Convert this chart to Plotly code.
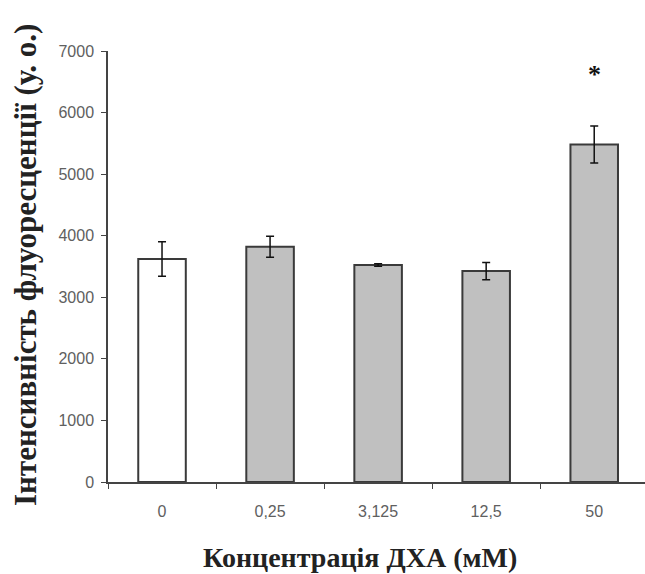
import plotly.graph_objects as go

categories = ["0", "0,25", "3,125", "12,5", "50"]
values = [3620, 3820, 3525, 3425, 5480]
errors = [280, 170, 20, 140, 300]
fill_colors = ["#ffffff", "#c0c0c0", "#c0c0c0", "#c0c0c0", "#c0c0c0"]
y_ticks = [0, 1000, 2000, 3000, 4000, 5000, 6000, 7000]
sig_marker = "*"
sig_index = 4
sig_y = 6620

fig = go.Figure()
fig.add_trace(go.Bar(
    x=categories, y=values,
    marker=dict(color=fill_colors, line=dict(color="#3a3a3a", width=2)),
    width=0.44,
    error_y=dict(type="data", array=errors, visible=True, color="#111111", thickness=1.5, width=4),
    showlegend=False,
))

fig.add_annotation(x=sig_index, y=sig_y, text="<b>" + sig_marker + "</b>", showarrow=False,
                   font=dict(family="Liberation Serif", size=26, color="#111111"), xref="x", yref="y")

fig.add_annotation(text="<b>Інтенсивність флуоресценції (у. о.)</b>", xref="paper", yref="paper",
                   x=-0.155, y=0.503, textangle=-90, showarrow=False, xanchor="center", yanchor="middle",
                   font=dict(family="Liberation Serif", size=31, color="#222222"))
fig.add_annotation(text="<b>Концентрація ДХА (мМ)</b>", xref="paper", yref="paper",
                   x=0.469, y=-0.176, showarrow=False, xanchor="center", yanchor="middle",
                   font=dict(family="Liberation Serif", size=28, color="#222222"))

fig.update_layout(
    width=645, height=574,
    margin=dict(l=108, r=0, t=51, b=92),
    plot_bgcolor="white", paper_bgcolor="white",
    bargap=0.56,
)
fig.update_xaxes(
    type="category", range=[-0.5, 4.47],
    showline=True, linecolor="#444444", linewidth=1.5,
    ticks="outside", tickson="boundaries", ticklen=5, tickcolor="#444444",
    ticklabelstandoff=14,
    tickfont=dict(family="Liberation Sans", size=16, color="#606060"),
    showgrid=False, zeroline=False,
)
fig.update_yaxes(
    range=[0, 7000], tickvals=y_ticks, ticktext=[str(v) for v in y_ticks],
    showline=True, linecolor="#444444", linewidth=1.5,
    ticks="outside", ticklen=5, tickcolor="#444444",
    ticklabelstandoff=4,
    tickfont=dict(family="Liberation Sans", size=16, color="#606060"),
    showgrid=False, zeroline=False,
)

fig.write_html("out.html")
